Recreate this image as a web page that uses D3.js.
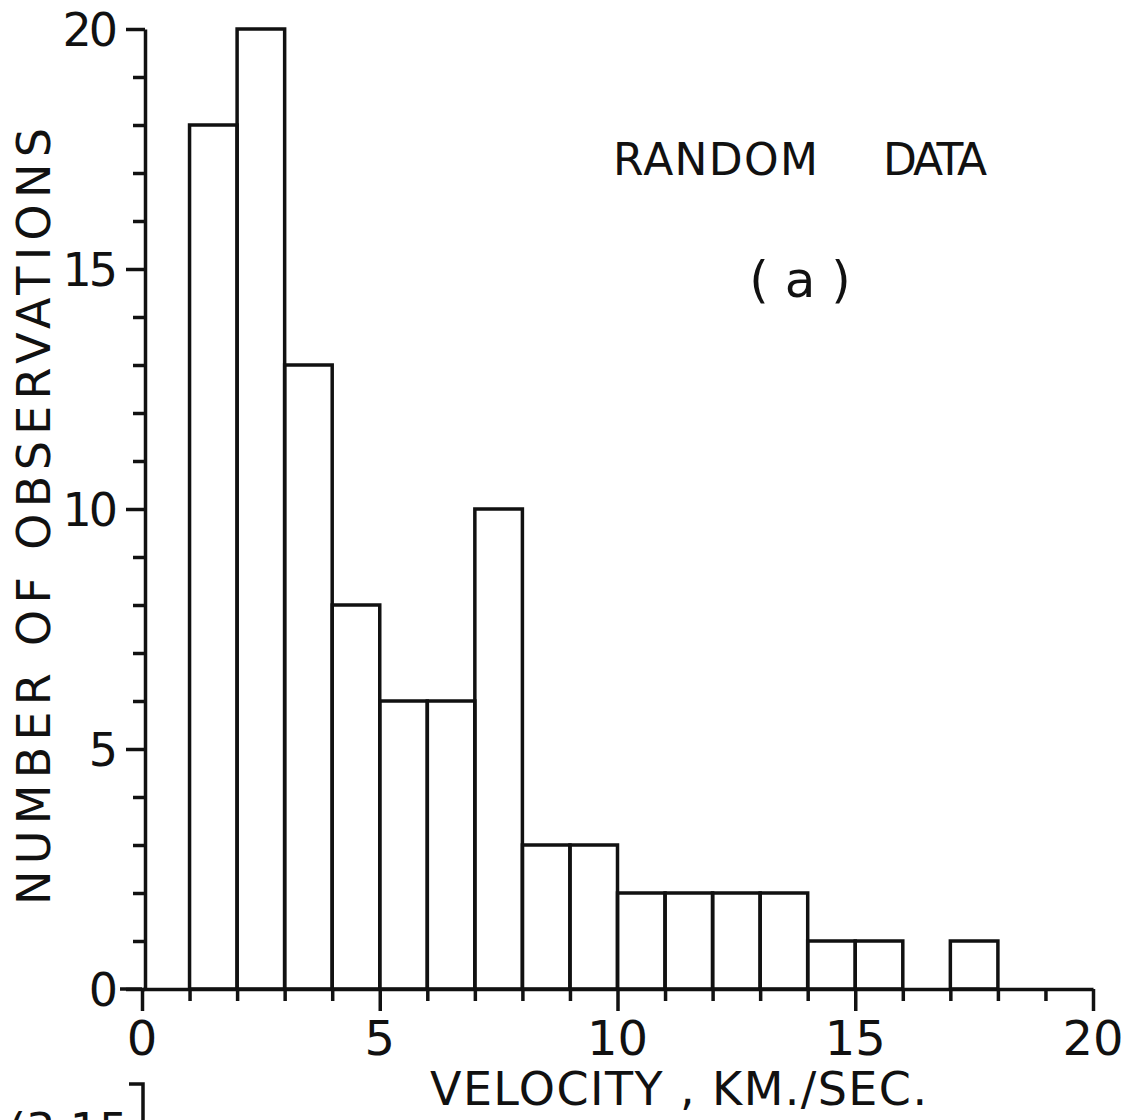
<!DOCTYPE html>
<html>
<head>
<meta charset="utf-8">
<script src="https://cdn.jsdelivr.net/npm/d3@7"></script>
<style>
  body { margin: 0; background: #fff; }
  text { font-family: "DejaVu Sans", sans-serif; fill: #111; }
  .axis path, .axis line { stroke: #111; stroke-width: 3.5; }
</style>
</head>
<body>
<div id="chart"></div>
<script>
// histogram bins (left edge, km/sec) and counts
var binStart = [1, 2, 3, 4, 5, 6, 7, 8, 9, 10, 11, 12, 13, 14, 15, 16, 17];
var counts   = [18, 20, 13, 8, 6, 6, 10, 3, 3, 2, 2, 2, 2, 1, 1, 0, 1];
var binWidth = 1;

var xTickLabels = [0, 5, 10, 15, 20];
var yTickLabels = [0, 5, 10, 15, 20];

var W = 1130, H = 1120;

var svg = d3.select("#chart")
    .append("svg")
    .attr("width", W)
    .attr("height", H);

var xScale = d3.scaleLinear().domain([0, 20]).range([142, 1093]);
var yScale = d3.scaleLinear().domain([0, 20]).range([989, 29]);

// bars
var bars = binStart.map(function(s, i) { return { x0: s, x1: s + binWidth, n: counts[i] }; })
    .filter(function(d) { return d.n > 0; });

svg.append("g").selectAll("rect")
    .data(bars)
    .enter()
    .append("rect")
    .attr("x", function(d) { return xScale(d.x0); })
    .attr("y", function(d) { return yScale(d.n); })
    .attr("width", function(d) { return xScale(d.x1) - xScale(d.x0); })
    .attr("height", function(d) { return yScale(0) - yScale(d.n); })
    .attr("fill", "none")
    .attr("stroke", "#111")
    .attr("stroke-width", 3.5);

// x axis: ticks every 1, longer at multiples of 5
var xAxis = d3.axisBottom(xScale)
    .tickValues(d3.range(0, 21))
    .tickSizeOuter(0)
    .tickFormat("");

var gx = svg.append("g")
    .attr("class", "x axis")
    .attr("transform", "translate(0," + yScale(0) + ")")
    .call(xAxis);

gx.selectAll(".tick line")
    .attr("y2", function(d) { return d % 5 === 0 ? 22 : 12; });

// axis line runs a bit left of zero
svg.append("line")
    .attr("x1", 120).attr("x2", xScale(0))
    .attr("y1", yScale(0)).attr("y2", yScale(0))
    .attr("stroke", "#111").attr("stroke-width", 3.5);

svg.append("g").selectAll("text.xlab")
    .data(xTickLabels)
    .enter()
    .append("text")
    .attr("class", "xlab")
    .attr("x", function(d) { return xScale(d); })
    .attr("y", 1055)
    .attr("text-anchor", "middle")
    .style("font-size", "48px")
    .text(function(d) { return d; });

// y axis
var yAxis = d3.axisLeft(yScale)
    .tickValues(d3.range(0, 21))
    .tickSizeOuter(0)
    .tickFormat("");

var gy = svg.append("g")
    .attr("class", "y axis")
    .attr("transform", "translate(145,0)")
    .call(yAxis);

gy.selectAll(".tick line")
    .attr("x2", function(d) { return d % 5 === 0 ? -19 : -12; });

svg.append("g").selectAll("text.ylab")
    .data(yTickLabels)
    .enter()
    .append("text")
    .attr("class", "ylab")
    .attr("x", 115)
    .attr("y", function(d) { return yScale(d) + 17; })
    .attr("text-anchor", "end")
    .style("font-size", "46px")
    .style("letter-spacing", "-3px")
    .text(function(d) { return d; });

// axis titles
svg.append("text")
    .attr("x", 430)
    .attr("y", 1105)
    .attr("textLength", 497)
    .attr("lengthAdjust", "spacing")
    .style("font-size", "46px")
    .text("VELOCITY , KM./SEC.");

svg.append("text")
    .attr("transform", "translate(50,905) rotate(-90)")
    .attr("textLength", 777)
    .attr("lengthAdjust", "spacing")
    .style("font-size", "46px")
    .text("NUMBER OF OBSERVATIONS");

// annotations
svg.append("text")
    .attr("x", 613)
    .attr("y", 175)
    .attr("textLength", 205)
    .attr("lengthAdjust", "spacing")
    .style("font-size", "44px")
    .text("RANDOM");

svg.append("text")
    .attr("x", 883)
    .attr("y", 175)
    .attr("textLength", 104)
    .attr("lengthAdjust", "spacing")
    .style("font-size", "44px")
    .text("DATA");

svg.append("text")
    .attr("x", 800)
    .attr("y", 297)
    .attr("text-anchor", "middle")
    .style("font-size", "50px")
    .text("( a )");

// cut-off page text at bottom left
svg.append("text")
    .attr("x", 8)
    .attr("y", 1146)
    .style("font-size", "46px")
    .text("(3.15");

svg.append("path")
    .attr("d", "M129,1084 H143 V1125")
    .attr("fill", "none")
    .attr("stroke", "#111")
    .attr("stroke-width", 3.5);
</script>
</body>
</html>
